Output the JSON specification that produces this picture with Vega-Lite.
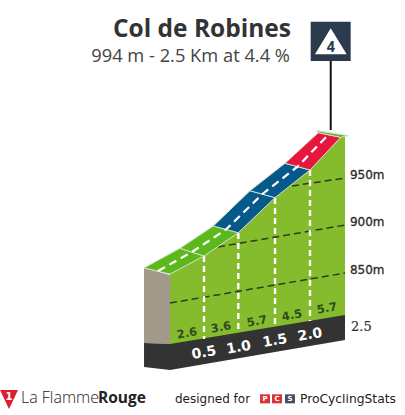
{"$schema":"https://vega.github.io/schema/vega-lite/v6.json","width":405,"height":415,"padding":0,"autosize":"none","background":"white","view":{"stroke":null},
"resolve":{"scale":{"fill":"independent"}},
"datasets":{
"faces":[
{"part":"wall","i":1,"km":0,"m":848.9},{"part":"wall","i":2,"km":0.486,"m":867.9},{"part":"wall","i":3,"km":0.976,"m":892.4},{"part":"wall","i":4,"km":1.5,"m":929.3},{"part":"wall","i":5,"km":2,"m":958.4},{"part":"wall","i":6,"km":2.439,"m":992.8},{"part":"wall","i":7,"km":2.5,"m":994.2},{"part":"wall","i":8,"km":2.5,"m":800},{"part":"wall","i":9,"km":0,"m":770},
{"part":"side","i":1,"km":-0.371,"m":855.3},{"part":"side","i":2,"km":0,"m":847.9},{"part":"side","i":3,"km":0,"m":775.3},{"part":"side","i":4,"km":-0.371,"m":776.3},
{"part":"sidebase","i":1,"km":-0.371,"m":776.3},{"part":"sidebase","i":2,"km":0,"m":775.3},{"part":"sidebase","i":3,"km":0,"m":747.9},{"part":"sidebase","i":4,"km":-0.371,"m":751.1},
{"part":"base","i":1,"km":0,"m":775.3},{"part":"base","i":2,"km":2.5,"m":805.8},{"part":"base","i":3,"km":2.5,"m":779.5},{"part":"base","i":4,"km":0,"m":747.9},
{"part":"sign","i":1,"km":2.01,"m":1114.5},{"part":"sign","i":2,"km":2.581,"m":1114.5},{"part":"sign","i":3,"km":2.581,"m":1073.2},{"part":"sign","i":4,"km":2.01,"m":1073.2},
{"part":"flag","i":1,"km":2.071,"m":1080.2},{"part":"flag","i":2,"km":2.524,"m":1080.2},{"part":"flag","i":3,"km":2.296,"m":1107.6},
{"part":"flame","i":1,"km":-2.429,"m":726.8},{"part":"flame","i":2,"km":-2.171,"m":726.8},{"part":"flame","i":3,"km":-2.3,"m":706.8},
{"part":"pcsP","i":1,"km":1.286,"m":722.3},{"part":"pcsP","i":2,"km":1.429,"m":722.3},{"part":"pcsP","i":3,"km":1.429,"m":712.8},{"part":"pcsP","i":4,"km":1.286,"m":712.8},
{"part":"pcsC","i":1,"km":1.457,"m":722.3},{"part":"pcsC","i":2,"km":1.6,"m":722.3},{"part":"pcsC","i":3,"km":1.6,"m":712.8},{"part":"pcsC","i":4,"km":1.457,"m":712.8},
{"part":"pcsS","i":1,"km":1.643,"m":722.3},{"part":"pcsS","i":2,"km":1.786,"m":722.3},{"part":"pcsS","i":3,"km":1.786,"m":712.8},{"part":"pcsS","i":4,"km":1.643,"m":712.8}
],
"road":[
{"seg":"a","grade":"easy","i":1,"km":-0.371,"m":855.3},{"seg":"a","grade":"easy","i":2,"km":0.143,"m":876},{"seg":"a","grade":"easy","i":3,"km":0.486,"m":867.9},{"seg":"a","grade":"easy","i":4,"km":0,"m":848.9},
{"seg":"b","grade":"easy","i":1,"km":0.143,"m":876},{"seg":"b","grade":"easy","i":2,"km":0.619,"m":899.5},{"seg":"b","grade":"easy","i":3,"km":0.976,"m":892.4},{"seg":"b","grade":"easy","i":4,"km":0.486,"m":867.9},
{"seg":"c","grade":"medium","i":1,"km":0.619,"m":899.5},{"seg":"c","grade":"medium","i":2,"km":1.143,"m":936.6},{"seg":"c","grade":"medium","i":3,"km":1.5,"m":929.3},{"seg":"c","grade":"medium","i":4,"km":0.976,"m":892.4},
{"seg":"d","grade":"medium","i":1,"km":1.143,"m":936.6},{"seg":"d","grade":"medium","i":2,"km":1.643,"m":965.5},{"seg":"d","grade":"medium","i":3,"km":2,"m":958.4},{"seg":"d","grade":"medium","i":4,"km":1.5,"m":929.3},
{"seg":"e","grade":"hard","i":1,"km":1.643,"m":965.5},{"seg":"e","grade":"hard","i":2,"km":2.119,"m":997.7},{"seg":"e","grade":"hard","i":3,"km":2.439,"m":992.8},{"seg":"e","grade":"hard","i":4,"km":2,"m":958.4},
{"seg":"f","grade":"easy","i":1,"km":2.096,"m":999.8},{"seg":"f","grade":"easy","i":2,"km":2.547,"m":994.5},{"seg":"f","grade":"easy","i":3,"km":2.439,"m":992.8},{"seg":"f","grade":"easy","i":4,"km":2.119,"m":997.7}
],
"levels":[
{"lvl":850,"km":0,"m":818.4},{"lvl":850,"km":2.5,"m":850},
{"lvl":900,"km":0.686,"m":877.4},{"lvl":900,"km":2.5,"m":900.5},
{"lvl":950,"km":1.743,"m":941.6},{"lvl":950,"km":2.5,"m":950}
],
"marks":[
{"k":0.5,"km":0.486,"m":867.9},{"k":0.5,"km":0.486,"m":780.5},
{"k":1,"km":0.976,"m":892.1},{"k":1,"km":0.976,"m":786.8},
{"k":1.5,"km":1.5,"m":928.9},{"k":1.5,"km":1.5,"m":793.2},
{"k":2,"km":2,"m":958.4},{"k":2,"km":2,"m":799.5}
],
"centre":[{"km":-0.171,"m":852.1},{"km":0.314,"m":872.1},{"km":0.8,"m":895.8},{"km":1.321,"m":933.2},{"km":1.821,"m":961.9},{"km":2.271,"m":996.3}],
"pole":[{"km":2.296,"m":1073.2},{"km":2.296,"m":1000.5}],
"levelLabels":[{"t":"950m","km":2.571,"m":953.5},{"t":"900m","km":2.571,"m":904},{"t":"850m","km":2.571,"m":853.5}],
"grades":[{"t":"2.6","km":0.243,"m":785.8},{"t":"3.6","km":0.729,"m":792.1},{"t":"5.7","km":1.243,"m":798.4},{"t":"4.5","km":1.743,"m":804.7},{"t":"5.7","km":2.243,"m":812.1}],
"kms":[{"t":"0.5","km":0.486,"m":765.8},{"t":"1.0","km":0.981,"m":771.4},{"t":"1.5","km":1.5,"m":778.5},{"t":"2.0","km":2,"m":784.8}]
},
"encoding":{
"x":{"field":"km","type":"quantitative","axis":null,"scale":{"domain":[-2.42857,3.35714],"nice":false,"zero":false}},
"y":{"field":"m","type":"quantitative","axis":null,"scale":{"domain":[700.53,1137.37],"nice":false,"zero":false}}
},
"layer":[
{"data":{"name":"faces"},"mark":{"type":"line","interpolate":"linear-closed","strokeWidth":0},
"encoding":{"order":{"field":"i","type":"quantitative"},
"fill":{"field":"part","type":"nominal","legend":null,"sort":null,"scale":{"domain":["wall","side","sidebase","base","sign","flag","flame","pcsP","pcsC","pcsS"],"range":["#85BC2D","#A2998A","#333333","#333333","#2C3A4E","#FFFFFF","#D8202F","#D9333A","#D9333A","#44505F"]}}}},
{"data":{"name":"levels"},"mark":{"type":"line","color":"#2F3A22","strokeWidth":1.5,"strokeDash":[7,4]},"encoding":{"detail":{"field":"lvl"}}},
{"data":{"name":"marks"},"mark":{"type":"line","color":"#FFFFFF","strokeWidth":2.4,"strokeDash":[6,4]},"encoding":{"detail":{"field":"k"}}},
{"data":{"name":"road"},"mark":{"type":"line","interpolate":"linear-closed","stroke":"#D5DCCB","strokeWidth":1},
"encoding":{"order":{"field":"i","type":"quantitative"},"detail":{"field":"seg"},
"fill":{"field":"grade","type":"nominal","legend":null,"scale":{"domain":["easy","medium","hard"],"range":["#5CB91C","#07598C","#E6173F"]}}}},
{"data":{"name":"centre"},"mark":{"type":"line","color":"#FFFFFF","strokeWidth":2.2,"strokeDash":[8,5]}},
{"data":{"name":"pole"},"mark":{"type":"line","color":"#111111","strokeWidth":2}},
{"data":{"name":"levelLabels"},"mark":{"type":"text","font":"DejaVu Sans","fontSize":12,"align":"left","baseline":"middle","fill":"#2B2B2B","stroke":"#2B2B2B","strokeWidth":0.3},"encoding":{"text":{"field":"t"}}},
{"data":{"values":[{"t":"2.5","km":2.586,"m":793.2}]},"mark":{"type":"text","font":"DejaVu Serif","fontSize":13,"align":"left","baseline":"middle","fill":"#333333","stroke":"#333333","strokeWidth":0.2},"encoding":{"text":{"field":"t"}}},
{"data":{"name":"grades"},"mark":{"type":"text","font":"DejaVu Sans","fontWeight":"bold","fontSize":11.5,"angle":-10,"align":"center","baseline":"middle","fill":"#2F4A1E"},"encoding":{"text":{"field":"t"}}},
{"data":{"name":"kms"},"mark":{"type":"text","font":"DejaVu Sans","fontWeight":"bold","fontSize":14,"angle":-10,"align":"center","baseline":"middle","fill":"#FFFFFF"},"encoding":{"text":{"field":"t"}}},
{"data":{"values":[{"t":"Col de Robines","km":1.729,"m":1098.8}]},"mark":{"type":"text","font":"Open Sans","fontWeight":"bold","fontSize":24.5,"align":"right","baseline":"alphabetic","fill":"#333333"},"encoding":{"text":{"field":"t"}}},
{"data":{"values":[{"t":"994 m - 2.5 Km at 4.4 %","km":1.714,"m":1072.1}]},"mark":{"type":"text","font":"Open Sans","fontSize":18.3,"align":"right","baseline":"alphabetic","fill":"#444444"},"encoding":{"text":{"field":"t"}}},
{"data":{"values":[{"t":"4","km":2.296,"m":1087.9}]},"mark":{"type":"text","font":"Roboto","fontWeight":"bold","fontSize":15,"align":"center","baseline":"middle","fill":"#2C3A4E"},"encoding":{"text":{"field":"t"}}},
{"data":{"values":[{"t":"1","km":-2.3,"m":719.5}]},"mark":{"type":"text","font":"DejaVu Sans","fontWeight":"bold","fontSize":10,"align":"center","baseline":"middle","fill":"#FFFFFF"},"encoding":{"text":{"field":"t"}}},
{"data":{"values":[{"t":"La Flamme","km":-2.129,"m":713.2}]},"mark":{"type":"text","font":"Open Sans","fontWeight":300,"fontSize":16,"align":"left","baseline":"alphabetic","fill":"#222222"},"encoding":{"text":{"field":"t"}}},
{"data":{"values":[{"t":"Rouge","km":-1.029,"m":713.2}]},"mark":{"type":"text","font":"Open Sans","fontWeight":"bold","fontSize":15.5,"align":"left","baseline":"alphabetic","fill":"#222222"},"encoding":{"text":{"field":"t"}}},
{"data":{"values":[{"t":"designed for","km":0.071,"m":713.2}]},"mark":{"type":"text","font":"DejaVu Sans","fontSize":12,"align":"left","baseline":"alphabetic","fill":"#222222"},"encoding":{"text":{"field":"t"}}},
{"data":{"values":[{"t":"ProCyclingStats","km":1.857,"m":713.2}]},"mark":{"type":"text","font":"DejaVu Sans","fontSize":12.3,"align":"left","baseline":"alphabetic","fill":"#222222"},"encoding":{"text":{"field":"t"}}},
{"data":{"values":[{"t":"P","km":1.357,"m":717.6},{"t":"C","km":1.529,"m":717.6},{"t":"S","km":1.714,"m":717.6}]},"mark":{"type":"text","font":"DejaVu Sans","fontWeight":"bold","fontSize":7,"align":"center","baseline":"middle","fill":"#FFFFFF"},"encoding":{"text":{"field":"t"}}}
]}
